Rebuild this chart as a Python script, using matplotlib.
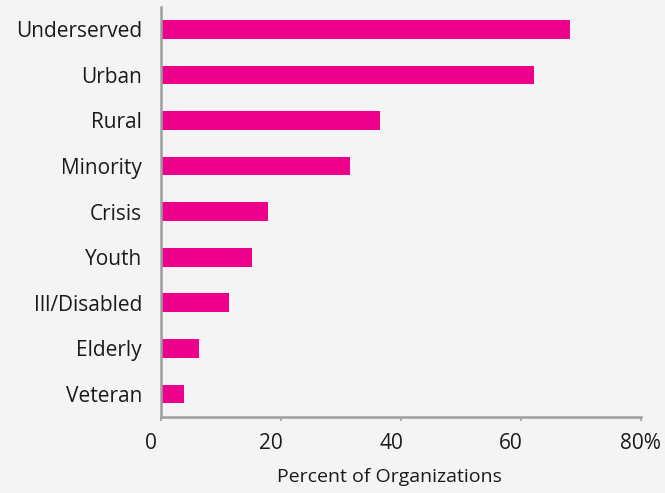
import matplotlib
matplotlib.use("Agg")
import matplotlib.pyplot as plt
import matplotlib.transforms as mtransforms

# data (bottom to top)
categories = ["Veteran", "Elderly", "Ill/Disabled", "Youth", "Crisis",
              "Minority", "Rural", "Urban", "Underserved"]
percent = [3.8, 6.4, 11.4, 15.2, 17.9, 31.6, 36.6, 62.2, 68.2]
xticks = [0, 20, 40, 60, 80]
xtick_labels = ["0", "20", "40", "60", "80%"]

bg = "#f4f4f4"
bar_color = "#ec008c"
spine_color = "#9e9e9e"
text_color = "#1a1a1a"

plt.rcParams["font.family"] = ["Open Sans", "DejaVu Sans"]

fig = plt.figure(figsize=(6.65, 4.93), dpi=100, facecolor=bg)
ax = fig.add_axes([0.2417, 0.1548, 0.7218, 0.832], facecolor=bg)

ax.barh(range(len(categories)), percent, height=0.41, color=bar_color)

ax.set_ylim(-0.5, len(categories) - 0.5)
ax.set_yticks(range(len(categories)))
ax.set_yticklabels(categories, fontsize=15, color=text_color)
ax.tick_params(axis="y", length=0, pad=13.5)

ax.set_xlim(0, 80)
ax.set_xticks(xticks)
ax.set_xticklabels(xtick_labels, fontsize=15, color=text_color)
ax.tick_params(axis="x", direction="out", length=3, width=1.2,
               color=spine_color, pad=9)

# Excel-style offset: plain numbers sit left as if they had a % sign
shift = mtransforms.ScaledTranslation(-9.5 / 100, 0, fig.dpi_scale_trans)
for lab in ax.get_xticklabels()[:-1]:
    lab.set_transform(lab.get_transform() + shift)

ax.set_xlabel("Percent of Organizations", fontsize=14, color=text_color)
ax.xaxis.set_label_coords(0.476, -0.125)

for side in ["top", "right"]:
    ax.spines[side].set_visible(False)
for side in ["left", "bottom"]:
    ax.spines[side].set_color(spine_color)
    ax.spines[side].set_linewidth(1.8)

fig.savefig("out.png", dpi=100, facecolor=bg)
